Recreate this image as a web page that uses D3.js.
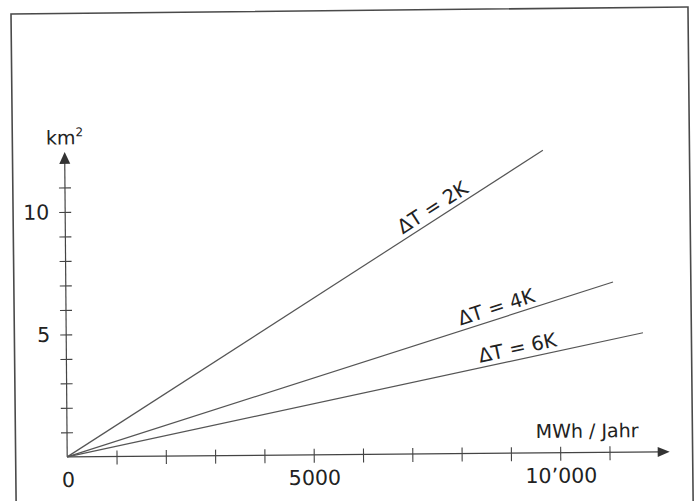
<!DOCTYPE html>
<html>
<head>
<meta charset="utf-8">
<script src="https://cdn.jsdelivr.net/npm/d3@7"></script>
<style>
  body { margin: 0; background: #fff; }
  svg { display: block; }
</style>
</head>
<body>
<div id="chart"></div>
<script>
// data
const seriesNames = ['ΔT = 2K', 'ΔT = 4K', 'ΔT = 6K'];
const seriesEndX = [9700, 11100, 11700];      // MWh / Jahr
const seriesEndY = [12.35, 6.95, 4.87];       // km2
const labelStartX = [6900, 8030, 8410];
const xTicks = [1000, 2000, 3000, 4000, 5000, 6000, 7000, 8000, 9000, 10000, 11000];
const xLabelValues = [0, 5000, 10000];
const xLabels = ['0', '5000', '10’000'];
const yTicks = [1, 2, 3, 4, 5, 6, 7, 8, 9, 10, 11];
const yLabelValues = [5, 10];
const yLabels = ['5', '10'];

const width = 699;
const height = 501;
const font = 'DejaVu Sans, sans-serif';
let margin = { top: 160.5, right: 42, bottom: 46.5, left: 65.5 };

let x = d3.scaleLinear()
    .domain([0, 12000])
    .range([margin.left, margin.left + 49.3 * 12]);

let y = d3.scaleLinear()
    .domain([0, 12])
    .range([height - margin.bottom, height - margin.bottom - 24.5 * 12]);

const svg = d3.select('#chart')
    .append('svg')
    .attr('width', width)
    .attr('height', height);

// frame (scan is slightly tilted)
svg.append('rect')
    .attr('x', 13.5)
    .attr('y', 10.5)
    .attr('width', 677)
    .attr('height', 520)
    .attr('fill', 'none')
    .attr('stroke', '#4a4a4a')
    .attr('stroke-width', 1.6)
    .attr('transform', `rotate(-0.6, ${width / 2}, ${height / 2})`);

const g = svg.append('g')
    .attr('transform', `rotate(-0.48, ${width / 2}, ${height / 2})`);

let xAxis = (sel) => sel
    .attr('transform', `translate(0,${y(0)})`)
    .call(d3.axisBottom(x).tickValues(xTicks).tickSize(0).tickFormat(''));

let yAxis = (sel) => sel
    .attr('transform', `translate(${x(0)},0)`)
    .call(d3.axisLeft(y).tickValues(yTicks).tickSize(0).tickFormat(''));

let gx = g.append('g').call(xAxis);
let gy = g.append('g').call(yAxis);
gx.select('.domain').remove();
gy.select('.domain').remove();
gx.selectAll('.tick line')
    .attr('y1', -6).attr('y2', 8)
    .attr('stroke', '#444').attr('stroke-width', 1.1);
gy.selectAll('.tick line')
    .attr('x1', -6).attr('x2', 6)
    .attr('stroke', '#444').attr('stroke-width', 1.1);

// axis lines with arrow heads
const xEnd = 668;
const yEnd = 149.5;
g.append('line')
    .attr('x1', x(0)).attr('y1', y(0))
    .attr('x2', xEnd - 8).attr('y2', y(0))
    .attr('stroke', '#444').attr('stroke-width', 1.2);
g.append('line')
    .attr('x1', x(0)).attr('y1', y(0))
    .attr('x2', x(0)).attr('y2', yEnd + 8)
    .attr('stroke', '#444').attr('stroke-width', 1.2);
g.append('path')
    .attr('d', `M${xEnd},${y(0)} L${xEnd - 12},${y(0) - 5} L${xEnd - 12},${y(0) + 5} Z`)
    .attr('fill', '#333');
g.append('path')
    .attr('d', `M${x(0)},${yEnd} L${x(0) - 5.5},${yEnd + 12} L${x(0) + 5.5},${yEnd + 12} Z`)
    .attr('fill', '#333');

// tick labels
g.selectAll('.xlab')
    .data(xLabelValues)
    .enter()
    .append('text')
    .attr('class', 'xlab')
    .attr('x', d => x(d) + 1)
    .attr('y', y(0) + 30)
    .attr('text-anchor', 'middle')
    .attr('font-family', font)
    .attr('font-size', 20.5)
    .attr('fill', '#222')
    .text((d, i) => xLabels[i]);

g.selectAll('.ylab')
    .data(yLabelValues)
    .enter()
    .append('text')
    .attr('class', 'ylab')
    .attr('x', x(0) - 16)
    .attr('y', d => y(d) + 7.5)
    .attr('text-anchor', 'end')
    .attr('font-family', font)
    .attr('font-size', 20.5)
    .attr('fill', '#222')
    .text((d, i) => yLabels[i]);

// axis titles
g.append('text')
    .attr('x', 637)
    .attr('y', y(0) - 15)
    .attr('text-anchor', 'end')
    .attr('font-family', font)
    .attr('font-size', 19)
    .attr('fill', '#222')
    .text('MWh / Jahr');

let kmLabel = g.append('text')
    .attr('x', 47)
    .attr('y', 142)
    .attr('font-family', font)
    .attr('font-size', 19)
    .attr('fill', '#222')
    .text('km');
kmLabel.append('tspan')
    .attr('dy', -8)
    .attr('font-size', 12)
    .text('2');

// lines
let lineData = seriesNames.map((name, i) => ({
    name: name,
    points: [[0, 0], [seriesEndX[i], seriesEndY[i]]],
    labelX: labelStartX[i],
    slope: seriesEndY[i] / seriesEndX[i]
}));

let line = d3.line()
    .x(d => x(d[0]))
    .y(d => y(d[1]));

g.selectAll('.series')
    .data(lineData)
    .enter()
    .append('path')
    .attr('class', 'series')
    .attr('d', d => line(d.points))
    .attr('fill', 'none')
    .attr('stroke', '#555')
    .attr('stroke-width', 1.2);

g.selectAll('.serieslab')
    .data(lineData)
    .enter()
    .append('text')
    .attr('class', 'serieslab')
    .attr('transform', d => {
        let px = x(d.labelX);
        let py = y(d.labelX * d.slope);
        let ang = Math.atan2(y(d.slope * 1000) - y(0), x(1000) - x(0)) * 180 / Math.PI;
        return `translate(${px},${py}) rotate(${ang})`;
    })
    .attr('y', -5)
    .attr('font-family', font)
    .attr('font-size', 19.5)
    .attr('fill', '#222')
    .text(d => d.name);
</script>
</body>
</html>
